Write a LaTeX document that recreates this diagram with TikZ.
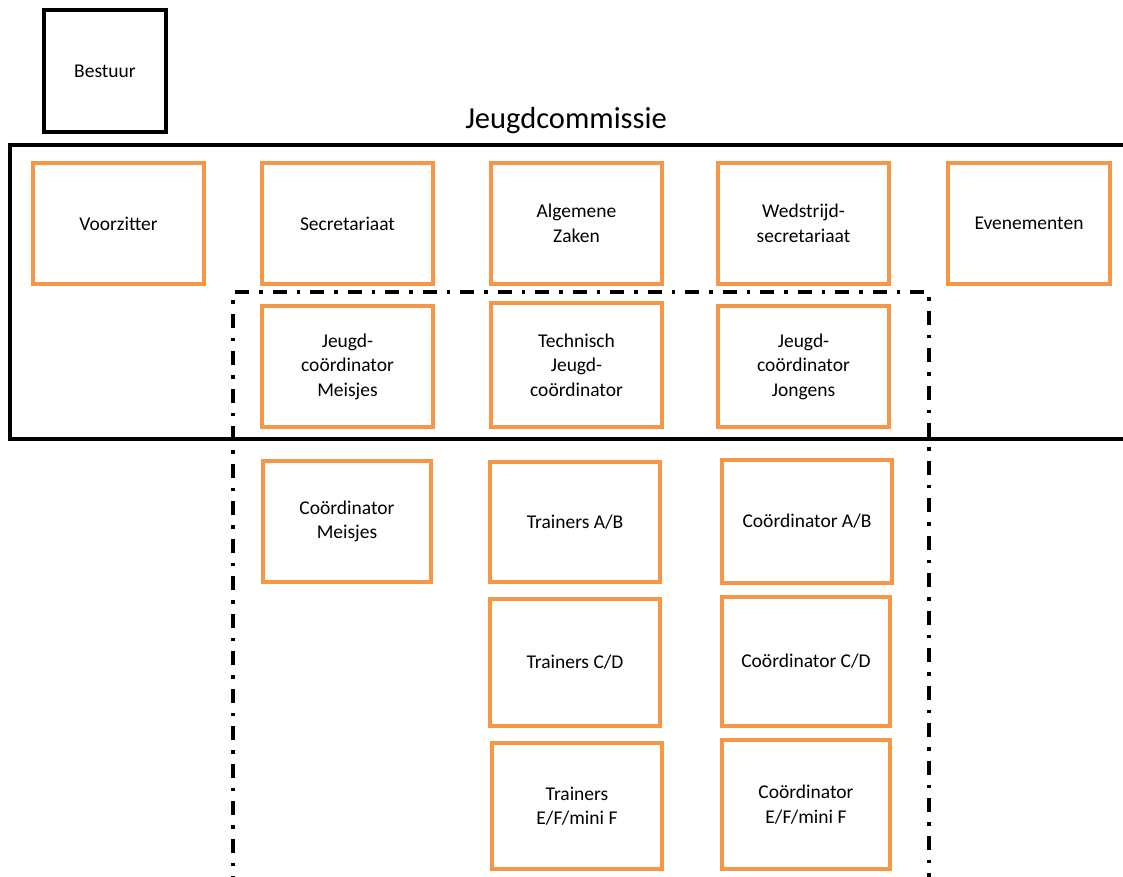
\documentclass[tikz,border=0pt]{standalone}
\usepackage{fontspec}
\setmainfont{Carlito}
\definecolor{borange}{HTML}{F79646}
\begin{document}
\begin{tikzpicture}[x=1pt,y=-1pt,
  obox/.style={draw=borange,line width=3.3pt,align=center,inner sep=2pt,
    font=\fontsize{19.5}{24.5}\selectfont},
  kbox/.style={draw=black,line width=3.5pt,align=center,
    font=\fontsize{19.5}{24.5}\selectfont},
  dashdotline/.style={line width=3.5pt,dash pattern=on 14pt off 10pt on 3.5pt off 10pt}]
\useasboundingbox (0,0) rectangle (1123,877);
% Bestuur
\node[kbox,minimum width=122pt,minimum height=122pt] (bestuur) at (105,71) {Bestuur};
% Jeugdcommissie frame
\node[font=\fontsize{30.5}{36}\selectfont] (jctitle) at (566,121) {Jeugdcommissie};
\coordinate (jctr) at (1135,145);
\coordinate (jcbr) at (1135,439);
\draw[line width=3.5pt] (jctr) -| (10,439) -- (jcbr);
% dash-dot frame
\coordinate (ddl) at (233,890);
\coordinate (ddr) at (929,890);
\draw[dashdotline] (ddl) |- (929,292) -- (ddr);
% Row 1
\node[obox,minimum width=171pt,minimum height=121pt] (voor) at (118.5,223.5) {Voorzitter};
\node[obox,minimum width=171pt,minimum height=121pt] (secr) at (347.5,223.5) {Secretariaat};
\node[obox,minimum width=171pt,minimum height=121pt] (alg) at (576.5,223.5) {Algemene\\Zaken};
\node[obox,minimum width=171pt,minimum height=121pt] (wed) at (803.5,223.5) {Wedstrijd-\\secretariaat};
\node[obox,minimum width=162pt,minimum height=121pt] (even) at (1029,223.5) {Evenementen};
% Row 2
\node[obox,minimum width=171pt,minimum height=121pt] (jcm) at (347.5,366.5) {Jeugd-\\coördinator\\Meisjes};
\node[obox,minimum width=171pt,minimum height=124pt] (tjc) at (576.5,365) {Technisch\\Jeugd-\\coördinator};
\node[obox,minimum width=171pt,minimum height=121pt] (jcj) at (803.5,366.5) {Jeugd-\\coördinator\\Jongens};
% Row 3
\node[obox,minimum width=168pt,minimum height=121pt] (cm) at (347,521.5) {Coördinator\\Meisjes};
\node[obox,minimum width=170pt,minimum height=120pt] (tab) at (575,522) {Trainers A/B};
\node[obox,minimum width=170pt,minimum height=123pt] (cab) at (807,521.5) {Coördinator A/B};
% Row 4
\node[obox,minimum width=170pt,minimum height=127pt] (tcd) at (575,662.5) {Trainers C/D};
\node[obox,minimum width=168pt,minimum height=129pt] (ccd) at (806,661.5) {Coördinator C/D};
% Row 5
\node[obox,minimum width=170pt,minimum height=126pt] (tef) at (577,806) {Trainers\\E/F/mini F};
\node[obox,minimum width=168pt,minimum height=129pt] (cef) at (806,804.5) {Coördinator\\E/F/mini F};
\end{tikzpicture}
\end{document}
